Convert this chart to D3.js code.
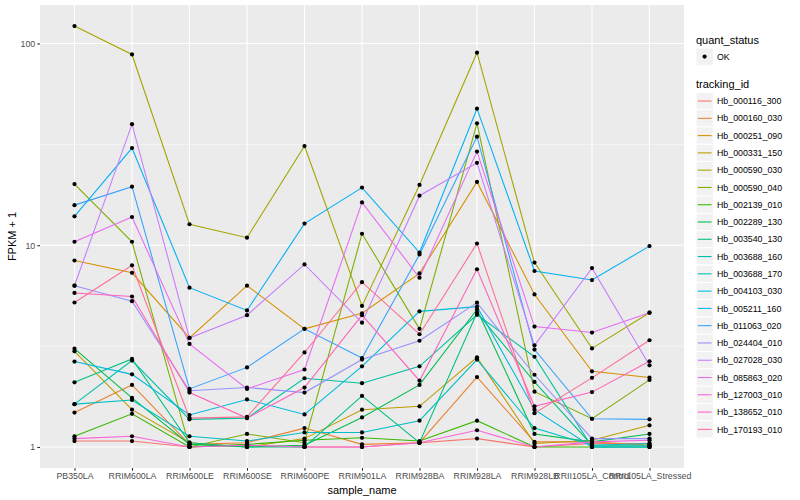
<!DOCTYPE html>
<html>
<head>
<meta charset="utf-8">
<script src="https://cdn.jsdelivr.net/npm/d3@7"></script>
<style>
  body { margin: 0; background: #fff; }
  text { font-family: "Liberation Sans", Arial, sans-serif; }
</style>
</head>
<body>
<svg id="drawing-area"></svg>
<script>
// samples on the x axis
var samples = ["PB350LA", "RRIM600LA", "RRIM600LE", "RRIM600SE", "RRIM600PE", "RRIM901LA",
               "RRIM928BA", "RRIM928LA", "RRIM928LB", "RRII105LA_Control", "RRII105LA_Stressed"];

var trackingIds = ["Hb_000116_300", "Hb_000160_030", "Hb_000251_090", "Hb_000331_150", "Hb_000590_030",
                   "Hb_000590_040", "Hb_002139_010", "Hb_002289_130", "Hb_003540_130", "Hb_003688_160",
                   "Hb_003688_170", "Hb_004103_030", "Hb_005211_160", "Hb_011063_020", "Hb_024404_010",
                   "Hb_027028_030", "Hb_085863_020", "Hb_127003_010", "Hb_138652_010", "Hb_170193_010"];

// FPKM + 1, one row per tracking id, one value per sample
var fpkm = [
  [1.07, 1.07, 1.0, 1.02, 1.0, 1.0, 1.05, 1.10, 1.0, 1.04, 1.04],
  [1.48, 2.03, 1.03, 1.05, 1.24, 1.03, 1.05, 2.22, 1.06, 1.06, 1.02],
  [8.4, 7.3, 3.47, 6.3, 3.85, 4.6, 7.25, 20.6, 5.7, 2.37, 2.21],
  [2.98, 1.53, 1.05, 1.0, 1.10, 1.53, 1.59, 2.78, 1.04, 1.08, 1.28],
  [122, 88.2, 12.7, 10.9, 31, 5.0, 19.9, 90, 8.2, 3.08, 4.63],
  [20.1, 10.4, 1.0, 1.16, 1.05, 11.4, 3.85, 40.2, 1.88, 1.38, 2.15],
  [1.13, 1.46, 1.0, 1.03, 1.08, 1.11, 1.07, 1.35, 1.0, 1.0, 1.0],
  [3.07, 1.75, 1.03, 1.0, 1.02, 1.40, 2.03, 4.8, 1.16, 1.06, 1.16],
  [2.09, 2.73, 1.05, 1.0, 1.0, 1.79, 1.05, 4.63, 2.1, 1.02, 1.02],
  [1.63, 2.68, 1.37, 1.39, 2.19, 2.07, 2.51, 4.52, 2.8, 1.0, 1.0],
  [1.63, 1.71, 1.13, 1.07, 1.18, 1.18, 1.35, 2.71, 1.24, 1.02, 1.04],
  [2.65, 2.29, 1.44, 1.72, 1.45, 2.51, 4.7, 4.96, 1.53, 1.0, 1.0],
  [13.9, 30.3, 6.16, 4.75, 12.8, 19.3, 9.2, 47.5, 7.45, 6.72, 9.9],
  [15.8, 19.5, 1.94, 2.48, 3.85, 2.76, 9.0, 34.5, 3.04, 1.38, 1.37],
  [6.3, 5.28, 1.90, 1.97, 1.86, 2.71, 3.36, 5.19, 2.28, 1.10, 1.10],
  [6.3, 39.8, 3.47, 4.5, 8.03, 4.13, 17.6, 25.6, 3.19, 7.7, 2.54],
  [10.4, 13.8, 3.24, 1.94, 2.42, 16.3, 6.9, 29.1, 3.95, 3.69, 4.63],
  [1.10, 1.13, 1.0, 1.02, 1.0, 1.0, 1.05, 1.21, 1.0, 1.06, 1.08],
  [5.8, 5.57, 1.86, 1.39, 1.97, 4.5, 2.13, 7.6, 1.59, 1.87, 2.66],
  [5.2, 7.95, 1.39, 1.41, 2.94, 6.56, 3.62, 10.2, 1.47, 2.2, 3.38]
];

var yTicks = [1, 10, 100];
var yMinor = [Math.sqrt(10), Math.sqrt(1000)];

var palette = ["#F8766D", "#EA8331", "#D89000", "#C09B00", "#A3A500", "#7CAE00", "#39B600", "#00BB4E",
               "#00BF7D", "#00C1A3", "#00BFC4", "#00BAE0", "#00B0F6", "#35A2FF", "#9590FF", "#C77CFF",
               "#E76BF3", "#FA62DB", "#FF62BC", "#FF6C91"];

var width = 800, height = 500;
var panel = {left: 40, right: 684, top: 5, bottom: 468};

var da = d3.select("#drawing-area")
    .attr("width", width)
    .attr("height", height);

var series = trackingIds.map(function(id, i){
    return {id: id, values: fpkm[i].map(function(v, j){ return {sample: samples[j], value: v}; })};
});

var xScale = d3.scalePoint()
    .domain(samples)
    .range([panel.left, panel.right])
    .padding(0.6);

// log scale with ggplot's 5% expansion
var ext = d3.extent(d3.merge(fpkm)).map(Math.log10);
var pad = (ext[1] - ext[0]) * 0.05;
var yScale = d3.scaleLog()
    .domain([Math.pow(10, ext[0] - pad), Math.pow(10, ext[1] + pad)])
    .range([panel.bottom, panel.top]);

var color = d3.scaleOrdinal().domain(trackingIds).range(palette);

// panel
da.append("rect")
    .attr("x", panel.left).attr("y", panel.top)
    .attr("width", panel.right - panel.left).attr("height", panel.bottom - panel.top)
    .attr("fill", "#EBEBEB");

da.selectAll(".minor").data(yMinor).enter().append("line")
    .attr("x1", panel.left).attr("x2", panel.right)
    .attr("y1", function(d){ return yScale(d); }).attr("y2", function(d){ return yScale(d); })
    .attr("stroke", "#fff").attr("stroke-width", 0.55);

da.selectAll(".ymajor").data(yTicks).enter().append("line")
    .attr("x1", panel.left).attr("x2", panel.right)
    .attr("y1", function(d){ return yScale(d); }).attr("y2", function(d){ return yScale(d); })
    .attr("stroke", "#fff").attr("stroke-width", 1.1);

da.selectAll(".xmajor").data(samples).enter().append("line")
    .attr("y1", panel.top).attr("y2", panel.bottom)
    .attr("x1", function(d){ return xScale(d); }).attr("x2", function(d){ return xScale(d); })
    .attr("stroke", "#fff").attr("stroke-width", 1.1);

// lines
var gen = d3.line()
    .x(function(d){ return xScale(d.sample); })
    .y(function(d){ return yScale(d.value); });

da.selectAll(".series").data(series).enter().append("path")
    .attr("class", "series")
    .attr("d", function(d){ return gen(d.values); })
    .attr("fill", "none")
    .attr("stroke", function(d){ return color(d.id); })
    .attr("stroke-width", 1.07);

// points
da.selectAll(".pts").data(series).enter().append("g")
    .selectAll("circle").data(function(d){ return d.values; }).enter().append("circle")
    .attr("cx", function(d){ return xScale(d.sample); })
    .attr("cy", function(d){ return yScale(d.value); })
    .attr("r", 2.1)
    .attr("fill", "#000");

// axes
var yAxis = d3.axisLeft(yScale)
    .tickValues(yTicks)
    .tickFormat(d3.format("d"))
    .tickSize(2.75)
    .tickPadding(2);

da.append("g")
    .attr("class", "y axis")
    .attr("transform", "translate(" + panel.left + ",0)")
    .call(yAxis);

var xAxis = d3.axisBottom(xScale)
    .tickSize(2.75)
    .tickPadding(2);

da.append("g")
    .attr("class", "x axis")
    .attr("transform", "translate(0," + panel.bottom + ")")
    .call(xAxis);

da.selectAll(".axis .domain").remove();
da.selectAll(".axis line").attr("stroke", "#333333").attr("stroke-width", 1.07);
da.selectAll(".axis text")
    .attr("fill", "#4D4D4D")
    .style("font-size", "8.8px")
    .style("font-family", "'Liberation Sans', Arial, sans-serif");

// axis titles
da.append("text")
    .attr("x", (panel.left + panel.right) / 2)
    .attr("y", 494)
    .attr("text-anchor", "middle")
    .style("font-size", "11px")
    .text("sample_name");

da.append("text")
    .attr("transform", "translate(16," + ((panel.top + panel.bottom) / 2) + ") rotate(-90)")
    .attr("text-anchor", "middle")
    .style("font-size", "11px")
    .text("FPKM + 1");

// legend: quant_status
var lx = 696;
da.append("text").attr("x", lx).attr("y", 44).style("font-size", "11px").text("quant_status");
da.append("rect").attr("x", lx).attr("y", 48).attr("width", 17.3).attr("height", 17.3)
    .attr("fill", "#F2F2F2").attr("stroke", "#fff");
da.append("circle").attr("cx", lx + 8.6).attr("cy", 56.6).attr("r", 2.1).attr("fill", "#000");
da.append("text").attr("x", lx + 21).attr("y", 59.8).style("font-size", "8.8px").text("OK");

// legend: tracking_id
da.append("text").attr("x", lx).attr("y", 88).style("font-size", "11px").text("tracking_id");

var keys = da.selectAll(".key").data(trackingIds).enter().append("g")
    .attr("class", "key")
    .attr("transform", function(d, i){ return "translate(" + lx + "," + (92.4 + i * 17.28) + ")"; });

keys.append("rect")
    .attr("width", 17.3).attr("height", 17.28)
    .attr("fill", "#F2F2F2").attr("stroke", "#fff").attr("stroke-width", 1);

keys.append("line")
    .attr("x1", 1.7).attr("x2", 15.6).attr("y1", 8.64).attr("y2", 8.64)
    .attr("stroke", function(d){ return color(d); })
    .attr("stroke-width", 1.07);

keys.append("text")
    .attr("x", 21).attr("y", 11.8)
    .style("font-size", "8.8px")
    .text(function(d){ return d; });
</script>
</body>
</html>
